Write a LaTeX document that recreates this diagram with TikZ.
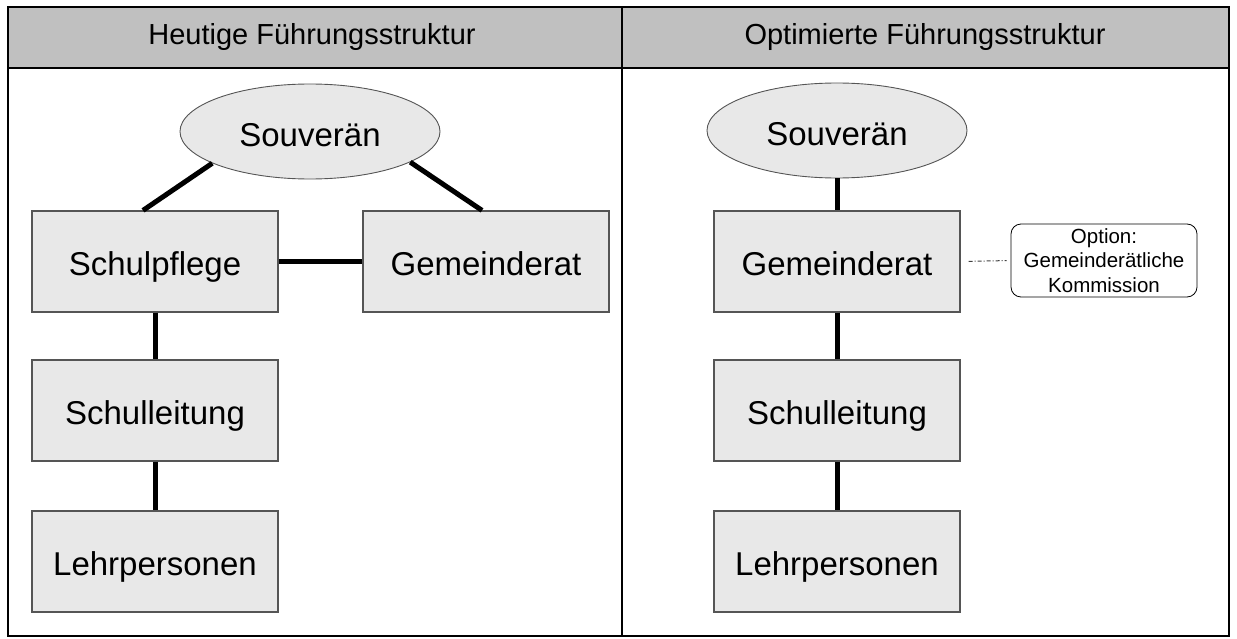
\documentclass[tikz,border=0pt]{standalone}
\usepackage{fontspec}
\setmainfont{Liberation Sans}
\usetikzlibrary{shapes.geometric,calc}
\definecolor{hdr}{RGB}{192,192,192}
\definecolor{boxfill}{RGB}{232,232,232}
\definecolor{boxline}{RGB}{85,85,85}
\tikzset{
  orgbox/.style={rectangle, draw=boxline, line width=1.2pt, fill=boxfill,
    minimum width=246pt, minimum height=101pt, inner sep=0pt,
    text height=27pt, text depth=0pt,
    font=\fontsize{33}{40}\selectfont},
  souv/.style={ellipse, draw=boxline, line width=0.9pt, fill=boxfill,
    minimum width=260pt, minimum height=95pt, inner sep=0pt,
    text height=30pt, text depth=0pt,
    font=\fontsize{33}{40}\selectfont},
  conn/.style={line width=5pt, black},
  title/.style={font=\fontsize{29}{34}\selectfont, inner sep=0pt},
  optbox/.style={rectangle, rounded corners=10pt, draw=black, line width=0.8pt, fill=white,
    minimum width=186pt, minimum height=73pt, inner sep=0pt, align=center,
    font=\fontsize{20.5}{24.5}\selectfont},
  optline/.style={line width=1pt, draw=black!75, dash pattern=on 4pt off 2pt on 1pt off 2pt}
}
\begin{document}
\begin{tikzpicture}[x=1pt,y=-1pt]
\useasboundingbox (0,0) rectangle (1237,639);
% frame and header
\fill[hdr] (8,7) rectangle (1229,68);
\draw[line width=2pt] (8,7) rectangle (1229,636);
\draw[line width=2pt] (8,68) -- (1229,68);
\draw[line width=2pt] (622,7) -- (622,636);
\node[title] (t1) at (312,37.5) {Heutige Führungsstruktur};
\node[title] (t2) at (925,37.5) {Optimierte Führungsstruktur};

% left: today
\node[souv] (souL) at (310,131.5) {Souverän};
\node[orgbox] (spL) at (155,261.5) {Schulpflege};
\node[orgbox] (gemL) at (486,261.5) {Gemeinderat};
\node[orgbox] (slL) at (155,410.5) {Schulleitung};
\node[orgbox] (lpL) at (155,561.5) {Lehrpersonen};
\draw[conn] (souL.198) -- ([xshift=-12pt]spL.north);
\draw[conn] (souL.343) -- ([xshift=-4pt]gemL.north);
\draw[conn] (spL.east) -- (gemL.west);
\draw[conn] (spL.south) -- (slL.north);
\draw[conn] (slL.south) -- (lpL.north);

% right: optimised
\node[souv] (souR) at (837,130.5) {Souverän};
\node[orgbox] (gemR) at (837,261.5) {Gemeinderat};
\node[orgbox] (slR) at (837,410.5) {Schulleitung};
\node[orgbox] (lpR) at (837,561.5) {Lehrpersonen};
\node[optbox] (opt) at (1104,260.5) {Option:\\Gemeinderätliche\\Kommission};
\draw[conn] (souR.south) -- (gemR.north);
\draw[conn] (gemR.south) -- (slR.north);
\draw[conn] (slR.south) -- (lpR.north);
\draw[optline, shorten <=8pt, shorten >=4pt] (gemR.east) -- (opt.west);
\end{tikzpicture}
\end{document}
